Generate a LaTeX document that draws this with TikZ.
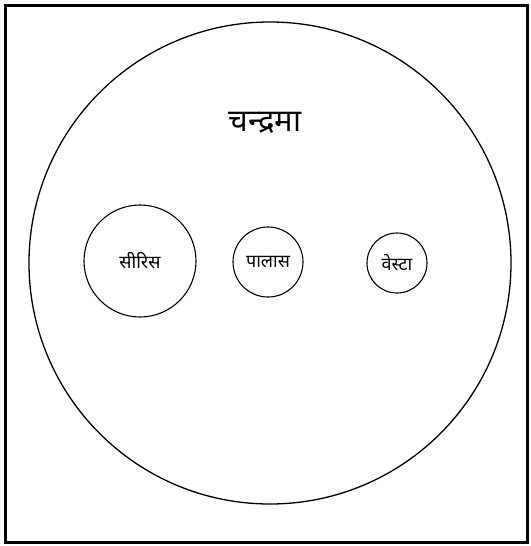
\documentclass[tikz,border=0pt]{standalone}
\usepackage{fontspec}
\newfontfamily\devfont[Script=Devanagari]{Noto Sans}
\usetikzlibrary{positioning}

\begin{document}
\begin{tikzpicture}[
  x=1pt, y=-1pt,
  font=\devfont,
  moon/.style={draw, circle, line width=1.3pt, minimum size=482pt, inner sep=0pt},
  body/.style={draw, circle, line width=1.1pt, inner sep=0pt, font=\devfont\fontsize{18}{20}\selectfont},
  frame/.style={draw, line width=3pt}
]
  \useasboundingbox (0,0) rectangle (530,546);
  \path[frame] (5,5) rectangle (527,542);

  \node[moon] (chand) at (270,263) {};
  \node[font=\devfont\fontsize{31}{34}\selectfont] (title) at (265,123) {चन्द्रमा};

  \node[body, minimum size=112pt] (ceres)  at (140,261) {सीरिस};
  \node[body, minimum size=70pt]  (pallas) at (268,262) {पालास};
  \node[body, minimum size=60pt]  (vesta)  at (397,263) {वेस्टा};
\end{tikzpicture}
\end{document}
